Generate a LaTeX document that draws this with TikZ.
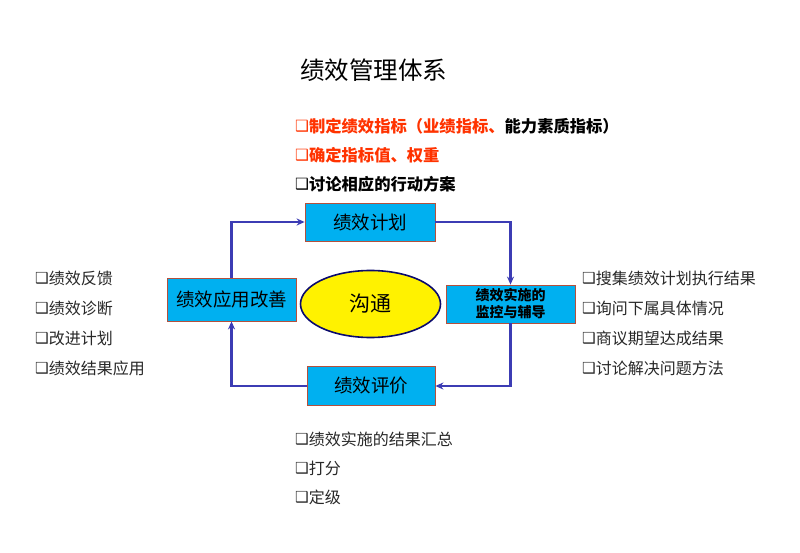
\documentclass[tikz,border=0pt]{standalone}
\usepackage{fontspec}
\usetikzlibrary{arrows.meta,shapes.geometric}
\setmainfont{Noto Sans CJK SC}
\newfontfamily\cjk{Noto Sans CJK SC}
\newfontfamily\dejavu{DejaVu Sans}
\newcommand\bxx{{\dejavu\raisebox{0.03em}{\scalebox{0.95}{❑}}}}
\definecolor{boxfill}{RGB}{0,176,240}
\definecolor{boxline}{RGB}{180,80,60}
\definecolor{arrowc}{RGB}{60,60,180}
\definecolor{redtxt}{RGB}{255,51,0}
\definecolor{graytxt}{RGB}{40,40,40}
\definecolor{ellline}{RGB}{10,10,110}
\tikzset{
  blbox/.style={draw=boxline, line width=0.8pt, fill=boxfill, inner sep=0pt, font=\cjk},
  flow/.style={draw=arrowc, line width=2.2pt, -{Stealth[length=8pt,width=7pt]}},
  item/.style={anchor=west, inner sep=0pt, font=\cjk\fontsize{16}{19}\selectfont, text=graytxt},
  topitem/.style={anchor=west, inner sep=0pt, font=\cjk\bfseries\fontsize{16.3}{19}\selectfont}
}
\begin{document}
\begin{tikzpicture}[x=1pt,y=-1pt]
\useasboundingbox[fill=white] (0,0) rectangle (800,553);
% title
\node[anchor=west, inner sep=0pt, font=\cjk\fontsize{24.5}{28}\selectfont] (title) at (300,70) {绩效管理体系};
% top items
\node[topitem, text=redtxt] (t1) at (295,126) {\bxx 制定绩效指标（业绩指标、\textcolor{black}{能力素质指标）}};
\node[topitem, text=redtxt] (t2) at (295,155) {\bxx 确定指标值、权重};
\node[topitem, text=black] (t3) at (295,184) {\bxx 讨论相应的行动方案};
% boxes
\node[blbox, minimum width=130pt, minimum height=38pt, font=\cjk\fontsize{18.5}{20}\selectfont] (plan) at (370,222) {绩效计划};
\node[blbox, minimum width=129pt, minimum height=43pt, font=\cjk\fontsize{18.5}{20}\selectfont] (app) at (231.5,299.5) {绩效应用改善};
\node[blbox, minimum width=129pt, minimum height=38pt, font=\cjk\bfseries\fontsize{14}{17}\selectfont, align=center] (mon) at (510.5,304) {绩效实施的\\监控与辅导};
\node[blbox, minimum width=128pt, minimum height=39pt, font=\cjk\fontsize{18.5}{20}\selectfont] (eval) at (371,386) {绩效评价};
\node[ellipse, draw=ellline, line width=1.6pt, fill=yellow, minimum width=140pt, minimum height=67pt, inner sep=0pt, font=\cjk\fontsize{21}{22}\selectfont] (comm) at (370.5,304) {沟通};
% arrows
\draw[flow] (plan.east) -| (mon.north);
\draw[flow] (mon.south) |- (eval.east);
\draw[flow] (eval.west) -| (app.south);
\draw[flow] (app.north) |- (plan.west);
% left items
\node[item] (l1) at (35,278) {\bxx 绩效反馈};
\node[item] (l2) at (35,308) {\bxx 绩效诊断};
\node[item] (l3) at (35,338) {\bxx 改进计划};
\node[item] (l4) at (35,368) {\bxx 绩效结果应用};
% right items
\node[item] (r1) at (582,278) {\bxx 搜集绩效计划执行结果};
\node[item] (r2) at (582,308) {\bxx 询问下属具体情况};
\node[item] (r3) at (582,338) {\bxx 商议期望达成结果};
\node[item] (r4) at (582,368) {\bxx 讨论解决问题方法};
% bottom items
\node[item] (b1) at (295,439) {\bxx 绩效实施的结果汇总};
\node[item] (b2) at (295,468) {\bxx 打分};
\node[item] (b3) at (295,497) {\bxx 定级};
\end{tikzpicture}
\end{document}
